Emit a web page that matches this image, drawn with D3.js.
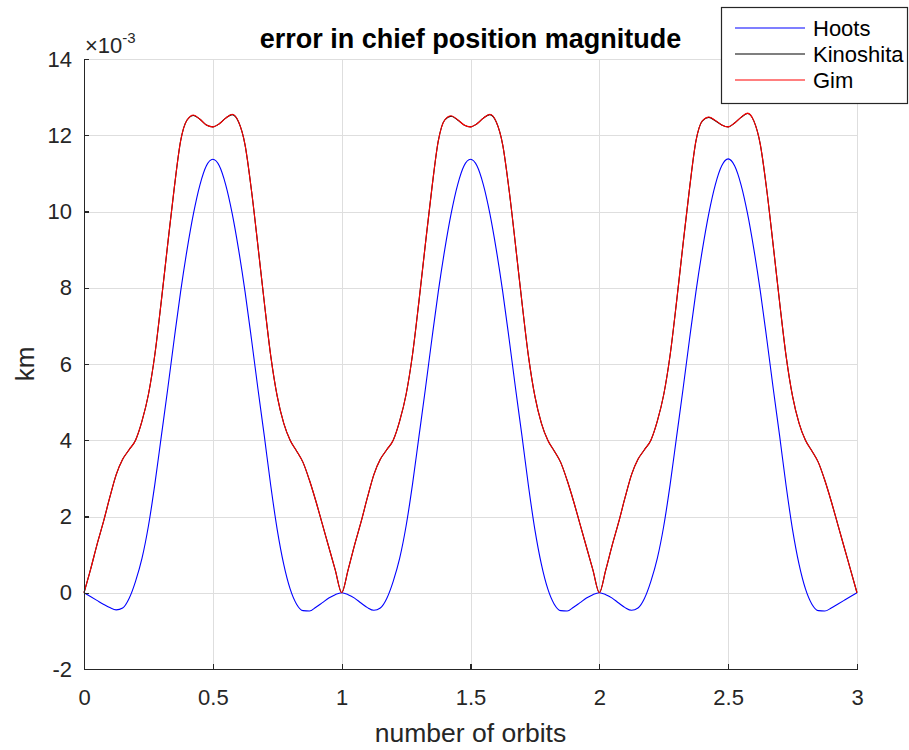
<!DOCTYPE html>
<html lang="en">
<head>
<meta charset="utf-8">
<title>error in chief position magnitude</title>
<style>
  body { margin: 0; background: #fff; }
  svg { display: block; font-family: "Liberation Sans", Arial, Helvetica, sans-serif; }
  .grid line { stroke: #dedede; stroke-width: 1; shape-rendering: crispEdges; }
  .axis path, .axis line { stroke: #262626; stroke-width: 1.2; shape-rendering: crispEdges; }
  .axis text { fill: #262626; font-size: 22px; }
  .series { fill: none; stroke-width: 1.1; }
</style>
</head>
<body>
<svg id="chart" width="909" height="750"></svg>
<script src="https://cdnjs.cloudflare.com/ajax/libs/d3/7.8.5/d3.min.js"></script>
<script>

// sampled every 0.025 orbit, values in units of 1e-3 km
var orbitStep = 0.025;

var hoots1 = [0, -0.1, -0.2, -0.3, -0.39, -0.45, -0.4, -0.15, 0.3, 0.9, 1.75, 2.85, 4.1, 5.35, 6.65, 7.9, 9.0, 9.95, 10.7, 11.2, 11.37,
              11.2, 10.7, 9.95, 9.0, 7.9, 6.65, 5.35, 4.1, 2.8, 1.65, 0.75, 0.1, -0.3, -0.47, -0.48, -0.38, -0.26, -0.14, -0.05];
var hoots2 = [0, -0.05, -0.14, -0.27, -0.39, -0.46, -0.4, -0.15, 0.3, 0.9, 1.75, 2.85, 4.1, 5.35, 6.65, 7.9, 9.0, 9.95, 10.7, 11.2, 11.37,
              11.2, 10.7, 9.95, 9.0, 7.9, 6.65, 5.35, 4.1, 2.8, 1.65, 0.75, 0.1, -0.3, -0.47, -0.48, -0.38, -0.26, -0.14, -0.05];
var hoots3 = [0, -0.05, -0.14, -0.27, -0.39, -0.46, -0.4, -0.15, 0.3, 0.9, 1.75, 2.85, 4.1, 5.35, 6.65, 7.9, 9.0, 9.95, 10.7, 11.2, 11.38,
              11.2, 10.7, 9.95, 9.0, 7.9, 6.65, 5.35, 4.1, 2.8, 1.65, 0.75, 0.1, -0.3, -0.47, -0.48, -0.4, -0.3, -0.2, -0.1, 0];

var kinoshita1 = [0, 0.6, 1.25, 1.85, 2.5, 3.1, 3.5, 3.75, 4.0, 4.5, 5.2, 6.25, 7.65, 9.15, 10.6, 11.85, 12.4, 12.52, 12.42, 12.27, 12.22,
                  12.3, 12.45, 12.54, 12.35, 11.75, 10.55, 9.1, 7.6, 6.2, 5.15, 4.45, 4.0, 3.72, 3.42, 2.95, 2.4, 1.8, 1.2, 0.6];
var kinoshita2 = [0, 0.6, 1.25, 1.85, 2.5, 3.1, 3.5, 3.75, 4.0, 4.5, 5.2, 6.25, 7.65, 9.15, 10.6, 11.85, 12.4, 12.5, 12.4, 12.27, 12.22,
                  12.3, 12.45, 12.54, 12.35, 11.75, 10.55, 9.1, 7.6, 6.2, 5.15, 4.45, 4.0, 3.72, 3.42, 2.95, 2.4, 1.8, 1.2, 0.6];
var kinoshita3 = [0, 0.6, 1.25, 1.85, 2.5, 3.1, 3.5, 3.75, 4.0, 4.5, 5.2, 6.25, 7.65, 9.15, 10.6, 11.85, 12.38, 12.47, 12.38, 12.27, 12.22,
                  12.32, 12.47, 12.57, 12.37, 11.75, 10.55, 9.1, 7.6, 6.2, 5.15, 4.45, 4.0, 3.72, 3.42, 2.95, 2.4, 1.8, 1.2, 0.6, 0];

var gim1 = [0, 0.6, 1.25, 1.85, 2.5, 3.1, 3.5, 3.75, 4.0, 4.5, 5.2, 6.25, 7.65, 9.15, 10.6, 11.85, 12.4, 12.53, 12.42, 12.27, 12.22,
            12.3, 12.45, 12.55, 12.35, 11.75, 10.55, 9.1, 7.6, 6.2, 5.15, 4.45, 4.0, 3.72, 3.42, 2.95, 2.4, 1.8, 1.2, 0.6];
var gim2 = [0, 0.6, 1.25, 1.85, 2.5, 3.1, 3.5, 3.75, 4.0, 4.5, 5.2, 6.25, 7.65, 9.15, 10.6, 11.85, 12.4, 12.51, 12.41, 12.27, 12.22,
            12.3, 12.45, 12.55, 12.35, 11.75, 10.55, 9.1, 7.6, 6.2, 5.15, 4.45, 4.0, 3.72, 3.42, 2.95, 2.4, 1.8, 1.2, 0.6];
var gim3 = [0, 0.6, 1.25, 1.85, 2.5, 3.1, 3.5, 3.75, 4.0, 4.5, 5.2, 6.25, 7.65, 9.15, 10.6, 11.85, 12.38, 12.48, 12.39, 12.27, 12.22,
            12.32, 12.47, 12.58, 12.37, 11.75, 10.55, 9.1, 7.6, 6.2, 5.15, 4.45, 4.0, 3.72, 3.42, 2.95, 2.4, 1.8, 1.2, 0.6, 0];

var xTicks = [0, 0.5, 1, 1.5, 2, 2.5, 3];
var yTicks = [-2, 0, 2, 4, 6, 8, 10, 12, 14];

var seriesNames = ["Hoots", "Kinoshita", "Gim"];
var seriesColors = ["#0000ff", "#000000", "#ff0000"];

var series = [
  hoots1.concat(hoots2, hoots3),
  kinoshita1.concat(kinoshita2, kinoshita3),
  gim1.concat(gim2, gim3)
];

var svg = d3.select("#chart");
var margin = {left: 84, right: 52, top: 59, bottom: 81};
var width = +svg.attr("width"), height = +svg.attr("height");

var x = d3.scaleLinear().domain([0, 3]).range([margin.left, width - margin.right]);
var y = d3.scaleLinear().domain([-2, 14]).range([height - margin.bottom, margin.top]);

// plain hyphen minus, like the original
var fmt = function(d) { return String(d); };

// grid
var grid = svg.append("g").attr("class", "grid");
grid.selectAll(".gx").data(xTicks).enter().append("line")
    .attr("x1", function(d) { return Math.round(x(d)) + 0.5; })
    .attr("x2", function(d) { return Math.round(x(d)) + 0.5; })
    .attr("y1", y(-2)).attr("y2", y(14));
grid.selectAll(".gy").data(yTicks).enter().append("line")
    .attr("y1", function(d) { return Math.round(y(d)) + 0.5; })
    .attr("y2", function(d) { return Math.round(y(d)) + 0.5; })
    .attr("x1", x(0)).attr("x2", x(3));

// lines
var line = d3.line()
    .x(function(d, i) { return x(i * orbitStep); })
    .y(function(d) { return y(d); })
    .curve(d3.curveMonotoneX);

svg.append("g").selectAll("path")
    .data(series)
    .enter().append("path")
    .attr("class", "series")
    .attr("stroke", function(d, i) { return seriesColors[i]; })
    .attr("d", line);

// axes
svg.append("g")
    .attr("class", "axis")
    .attr("transform", "translate(0," + y(-2) + ")")
    .call(d3.axisBottom(x).tickValues(xTicks).tickSizeInner(-5).tickSizeOuter(0).tickPadding(20).tickFormat(fmt));

svg.append("g")
    .attr("class", "axis")
    .attr("transform", "translate(" + x(0) + ",0)")
    .call(d3.axisLeft(y).tickValues(yTicks).tickSizeInner(-5).tickSizeOuter(0).tickPadding(12).tickFormat(fmt));

svg.selectAll(".axis").attr("font-family", null).attr("font-size", null);

// exponent label
var expo = svg.append("text")
    .attr("x", x(0) + 1)
    .attr("y", 53)
    .attr("fill", "#262626")
    .style("font-size", "22px");
expo.append("tspan").text("\u00d710");
expo.append("tspan").attr("dy", -10).style("font-size", "15px").text("-3");

// title
svg.append("text")
    .attr("x", (x(0) + x(3)) / 2)
    .attr("y", 48)
    .attr("text-anchor", "middle")
    .attr("font-weight", "bold")
    .attr("fill", "#000")
    .style("font-size", "27px")
    .text("error in chief position magnitude");

// axis labels
svg.append("text")
    .attr("x", (x(0) + x(3)) / 2)
    .attr("y", 742)
    .attr("text-anchor", "middle")
    .attr("fill", "#262626")
    .style("font-size", "26.5px")
    .text("number of orbits");

svg.append("text")
    .attr("transform", "translate(34," + ((y(-2) + y(14)) / 2) + ") rotate(-90)")
    .attr("text-anchor", "middle")
    .attr("fill", "#262626")
    .style("font-size", "26px")
    .text("km");

// legend
var legend = svg.append("g").attr("transform", "translate(721,7)");
legend.append("rect")
    .attr("x", 0.5).attr("y", 0.5)
    .attr("width", 186).attr("height", 96)
    .attr("fill", "#fff")
    .attr("stroke", "#262626")
    .attr("stroke-width", 1.2);

var rows = legend.selectAll(".row").data(seriesNames).enter().append("g")
    .attr("transform", function(d, i) { return "translate(0," + (21 + i * 26) + ")"; });
rows.append("line")
    .attr("x1", 14).attr("x2", 84)
    .attr("stroke", function(d, i) { return seriesColors[i]; })
    .attr("stroke-width", 1.1);
rows.append("text")
    .attr("x", 92)
    .attr("dy", "0.35em")
    .attr("fill", "#000")
    .style("font-size", "22px")
    .text(function(d) { return d; });

</script>
</body>
</html>
